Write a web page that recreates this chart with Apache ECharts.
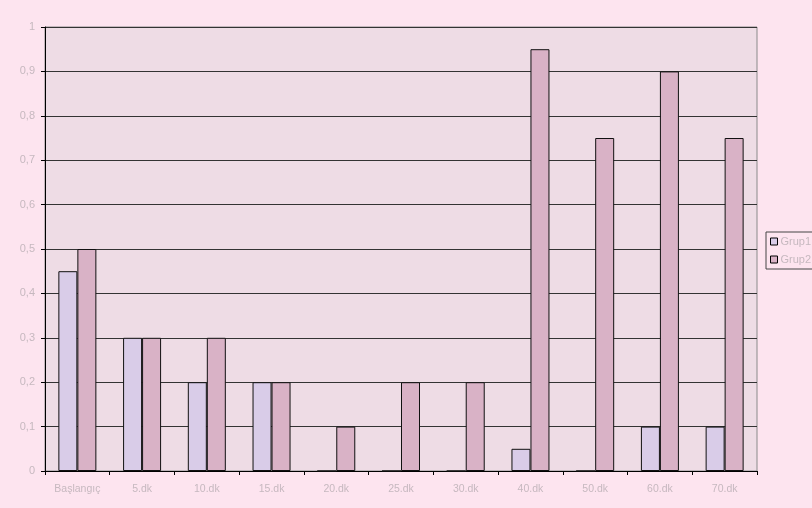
<!DOCTYPE html>
<html>
<head>
<meta charset="utf-8">
<script src="https://cdn.jsdelivr.net/npm/echarts@6/dist/echarts.min.js"></script>
<style>
html,body{margin:0;padding:0;background:#fde4ef;}
#chart{width:812px;height:508px;}
</style>
</head>
<body>
<div id="chart"></div>
<script>
const categories = ['Başlangıç','5.dk','10.dk','15.dk','20.dk','25.dk','30.dk','40.dk','50.dk','60.dk','70.dk'];
const grup1 = [0.45, 0.3, 0.2, 0.2, 0, 0, 0, 0.05, 0, 0.1, 0.1];
const grup2 = [0.5, 0.3, 0.3, 0.2, 0.1, 0.2, 0.2, 0.95, 0.75, 0.9, 0.75];
const seriesNames = ['Grup1', 'Grup2'];

const chart = echarts.init(document.getElementById('chart'), null, {renderer: 'canvas'});
const labelColor = '#c6b8bf';
// decimal comma on the value axis
const fmt = v => String(Math.round(v * 10) / 10).replace('.', ',');

chart.setOption({
  backgroundColor: '#fde4ef',
  animation: false,
  textStyle: {fontFamily: 'Liberation Sans, Arial, sans-serif'},
  grid: {
    left: 45, right: 55, top: 27, bottom: 37,
    show: true, backgroundColor: '#eedce5', borderColor: '#8a8a8a', borderWidth: 1,
    containLabel: false
  },
  legend: {
    orient: 'vertical', left: 766, top: 232,
    borderColor: '#444', borderWidth: 1, padding: [4, 12, 4, 4],
    itemWidth: 7, itemHeight: 7, itemGap: 7, icon: 'rect',
    textStyle: {color: labelColor, fontSize: 11, padding: [0, 0, 0, -2]},
    data: seriesNames.map(n => ({name: n, itemStyle: {borderColor: '#000', borderWidth: 1}}))
  },
  xAxis: {
    type: 'category', data: categories, boundaryGap: true,
    axisLine: {lineStyle: {color: '#000', width: 1}},
    axisTick: {show: true, inside: false, length: 4, alignWithLabel: false, lineStyle: {color: '#000'}},
    axisLabel: {color: labelColor, fontSize: 10.5, margin: 13, interval: 0},
    splitLine: {show: false}
  },
  yAxis: {
    type: 'value', min: 0, max: 1, interval: 0.1,
    axisLine: {show: true, lineStyle: {color: '#000', width: 1}},
    axisTick: {show: true, length: 4, lineStyle: {color: '#000'}},
    axisLabel: {color: labelColor, fontSize: 11, margin: 10, formatter: fmt},
    splitLine: {show: true, lineStyle: {color: '#333', width: 1}}
  },
  series: [
    {
      name: seriesNames[0], type: 'bar', data: grup1, barWidth: 19, barGap: '0%',
      itemStyle: {color: '#d9cce8', borderColor: '#111', borderWidth: 1}
    },
    {
      name: seriesNames[1], type: 'bar', data: grup2, barWidth: 19, barGap: '0%',
      itemStyle: {color: '#d9b2c6', borderColor: '#111', borderWidth: 1}
    }
  ]
});
</script>
</body>
</html>
